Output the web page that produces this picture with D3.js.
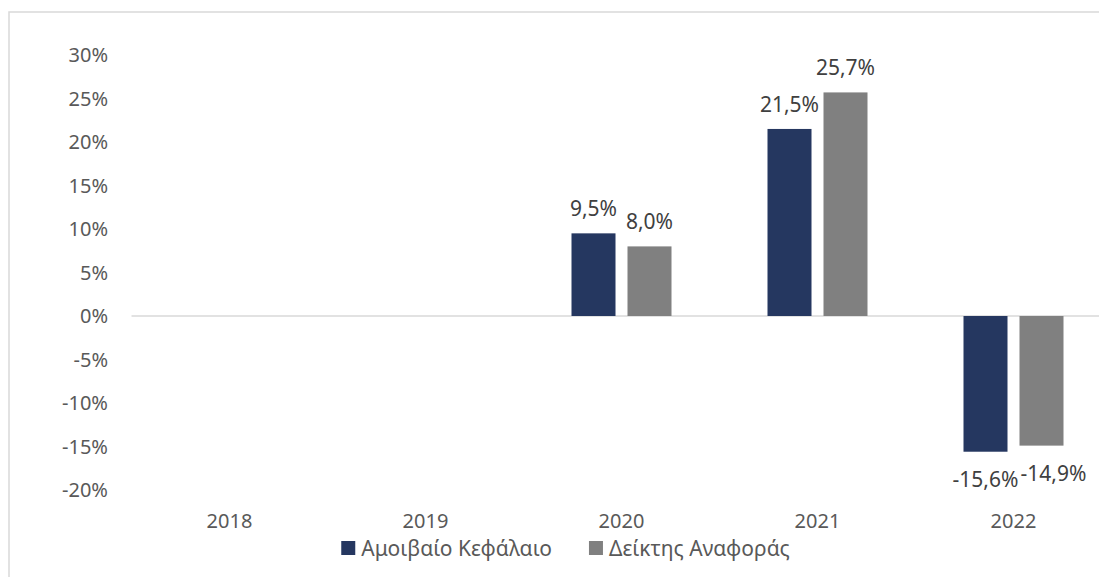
<!DOCTYPE html>
<html lang="el">

<head>
    <meta charset="UTF-8">
    <title>Αποδόσεις</title>
    <style>
        body {
            margin: 0;
            background-color: #fff;
        }

        svg text {
            font-family: "Noto Sans", "Open Sans", sans-serif;
        }
    </style>
    <script src="https://d3js.org/d3.v7.min.js"></script>
</head>

<body>
    <div id="chart"></div>
    <script>

        // data
        const years = ["2018", "2019", "2020", "2021", "2022"];
        const seriesNames = ["Αμοιβαίο Κεφάλαιο", "Δείκτης Αναφοράς"];
        const fundValues = [null, null, 9.5, 21.5, -15.6];
        const indexValues = [null, null, 8.0, 25.7, -14.9];
        const yTicks = [30, 25, 20, 15, 10, 5, 0, -5, -10, -15, -20];

        const colors = ["#253760", "#808080"];

        const W = 1099, H = 577;

        const svg = d3.select("#chart")
            .append("svg")
            .attr("width", W)
            .attr("height", H);

        // outer chart border (right and bottom edges fall outside the picture)
        svg.append("rect")
            .attr("x", 9)
            .attr("y", 12)
            .attr("width", 1200)
            .attr("height", 700)
            .attr("fill", "none")
            .attr("stroke", "#d9d9d9")
            .attr("stroke-width", 1.5);

        const x0 = d3.scaleBand()
            .domain(years)
            .range([131.5, 131.5 + 196 * years.length]);

        const x1 = d3.scaleBand()
            .domain(seriesNames)
            .range([0, 100])
            .paddingInner(12 / 56);

        const groupOffset = (x0.bandwidth() - 100) / 2;

        const y = d3.scaleLinear()
            .domain([-20, 30])
            .range([490, 55]);

        // y tick labels
        svg.append("g")
            .selectAll("text")
            .data(yTicks)
            .enter()
            .append("text")
            .attr("x", 108)
            .attr("y", d => y(d))
            .attr("dy", "0.36em")
            .attr("text-anchor", "end")
            .style("font-size", "20px")
            .style("fill", "#595959")
            .text(d => d + "%");

        // zero line
        svg.append("line")
            .attr("x1", x0.range()[0])
            .attr("x2", x0.range()[1])
            .attr("y1", y(0))
            .attr("y2", y(0))
            .attr("stroke", "#d9d9d9")
            .attr("stroke-width", 1.5);

        const rows = [];
        years.forEach(function (yr, i) {
            [fundValues[i], indexValues[i]].forEach(function (v, s) {
                if (v !== null) rows.push({ year: yr, series: seriesNames[s], s: s, value: v });
            });
        });

        const barX = d => x0(d.year) + groupOffset + x1(d.series);

        svg.append("g")
            .selectAll("rect")
            .data(rows)
            .enter()
            .append("rect")
            .attr("x", barX)
            .attr("y", d => y(Math.max(0, d.value)))
            .attr("width", x1.bandwidth())
            .attr("height", d => Math.abs(y(d.value) - y(0)))
            .attr("fill", d => colors[d.s]);

        // value labels; Excel nudges the last one right to avoid overlap
        const fmt = v => v.toFixed(1).replace(".", ",") + "%";
        svg.append("g")
            .selectAll("text")
            .data(rows)
            .enter()
            .append("text")
            .attr("x", d => barX(d) + x1.bandwidth() / 2 + (d.value < 0 && d.s === 1 ? 12 : 0))
            .attr("y", d => d.value >= 0 ? y(d.value) - 17 : y(d.value) + 35)
            .attr("text-anchor", "middle")
            .style("font-size", "21px")
            .style("fill", "#404040")
            .text(d => fmt(d.value));

        // x labels
        svg.append("g")
            .selectAll("text")
            .data(years)
            .enter()
            .append("text")
            .attr("x", d => x0(d) + x0.bandwidth() / 2)
            .attr("y", 528)
            .attr("text-anchor", "middle")
            .style("font-size", "20px")
            .style("fill", "#595959")
            .text(d => d);

        // legend
        const legend = svg.append("g").attr("class", "legend");
        const items = legend.selectAll("g")
            .data(seriesNames)
            .enter()
            .append("g");

        items.append("rect")
            .attr("width", 14)
            .attr("height", 14)
            .attr("y", 541)
            .attr("fill", (d, i) => colors[i]);

        items.append("text")
            .attr("x", 20)
            .attr("y", 556)
            .style("font-size", "21px")
            .style("fill", "#595959")
            .text(d => d);

        let cx = 0;
        const widths = [];
        items.each(function () {
            const w = 20 + d3.select(this).select("text").node().getComputedTextLength();
            widths.push(w);
        });
        const total = d3.sum(widths) + 37 * (widths.length - 1);
        cx = 565.5 - total / 2;
        items.each(function (d, i) {
            d3.select(this).attr("transform", `translate(${cx},0)`);
            cx += widths[i] + 37;
        });

    </script>
</body>

</html>
